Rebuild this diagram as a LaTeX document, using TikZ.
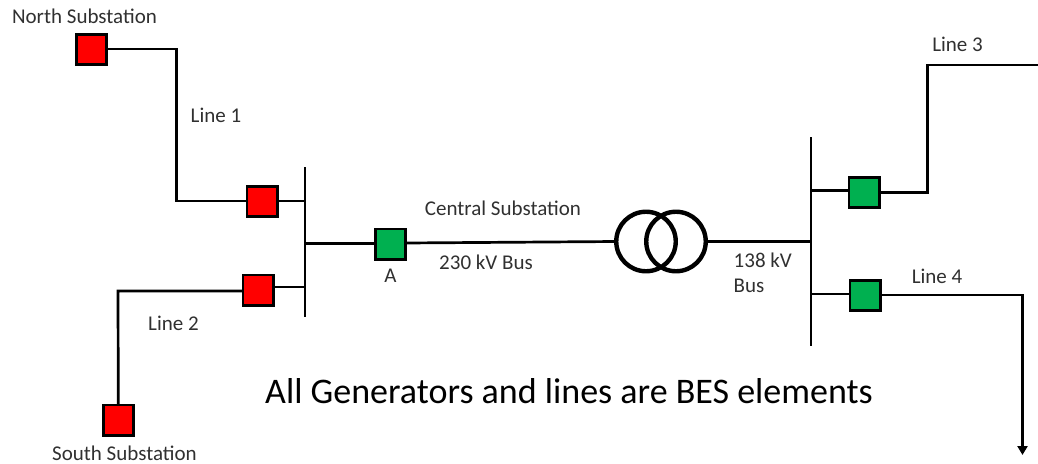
\documentclass[tikz,border=0pt]{standalone}
\usepackage{fontspec}
\setmainfont{Carlito}
\usetikzlibrary{arrows.meta}
\definecolor{brkred}{HTML}{FF0000}
\definecolor{brkgreen}{HTML}{00B050}
\definecolor{lbl}{HTML}{303030}
\tikzset{
  x=1pt,y=-1pt,
  brk/.style={draw=black,line width=2.8pt,minimum size=30.2pt,inner sep=0pt,outer sep=0pt},
  redbrk/.style={brk,fill=brkred},
  greenbrk/.style={brk,fill=brkgreen},
  wire/.style={draw=black,line width=2.7pt,line join=miter},
  winding/.style={circle,draw=black,line width=4.4pt,minimum size=59.5pt,inner sep=0pt,outer sep=0pt},
  lab/.style={inner sep=0pt,text=lbl,font=\fontsize{21}{25}\selectfont,anchor=center},
}
\begin{document}
\begin{tikzpicture}
\useasboundingbox (0,0) rectangle (1038,463);
% coordinates
\coordinate (bus1t) at (305,167);
\coordinate (bus1b) at (305,317);
\coordinate (bus2t) at (811,137);
\coordinate (bus2b) at (811,346);
\coordinate (c1) at (176.5,49);
\coordinate (c1b) at (176.5,201);
\coordinate (c2) at (118,291);
\coordinate (c3) at (927.5,192.5);
\coordinate (c3t) at (927.5,65);
\coordinate (e3) at (1038,65);
\coordinate (c4) at (1022.5,295);
\coordinate (e4) at (1022.5,455);
\coordinate (j1) at (305,243.5);
\coordinate (j2) at (305,287);
\coordinate (j3) at (811,190.5);
\coordinate (j4) at (811,294);
% breakers
\node[redbrk] (north) at (91.3,49.5) {};
\node[redbrk] (b1) at (262,201.5) {};
\node[redbrk] (b2) at (258,290) {};
\node[redbrk] (south) at (118.3,420) {};
\node[greenbrk] (a) at (390.7,244) {};
\node[greenbrk] (b3) at (864,192.7) {};
\node[greenbrk] (b4) at (865,295.3) {};
% transformer
\node[winding] (t1) at (646,241.5) {};
\node[winding] (t2) at (676,241.5) {};
% buses
\draw[wire] (bus1t) -- (bus1b);
\draw[wire] (bus2t) -- (bus2b);
% connectors
\draw[wire] (north.east |- c1) -- (c1) -- (c1b) -- (c1b -| b1.west);
\draw[wire] (c1b -| b1.east) -- (c1b -| bus1t);
\draw[wire] (south.north) -- (c2) -- (c2 -| b2.west);
\draw[wire] (j2 -| b2.east) -- (j2);
\draw[wire] (j1) -- (j1 -| a.west);
\draw[wire] (a.east) ++(0,-1) -- (t1.west);
\draw[wire] (t2.east) -- (t2.east -| bus2t);
\draw[wire] (j3) -- (j3 -| b3.west);
\draw[wire] (b3.east |- c3) -- (c3) -- (c3t) -- (e3);
\draw[wire] (j4) -- (j4 -| b4.west);
\draw[wire,-{Triangle[length=9pt,width=10pt]}] (b4.east |- c4) -- (c4) -- (e4);
% labels
\node[lab] (ln) at (84.5,16) {North Substation};
\node[lab] (ls) at (124.5,453.5) {South Substation};
\node[lab] (l1) at (216,115.5) {Line 1};
\node[lab] (l2) at (173.5,323) {Line 2};
\node[lab] (l3) at (957.5,44.5) {Line 3};
\node[lab] (l4) at (937,276) {Line 4};
\node[lab] (la) at (390.5,276) {A};
\node[lab] (lc) at (503,208) {Central Substation};
\node[lab] (lb) at (486,262) {230 kV Bus};
\node[lab,anchor=west] (l138) at (733.5,260.5) {138 kV};
\node[lab,anchor=west] (lbus) at (733.5,285.5) {Bus};
\node[inner sep=0pt,text=black,font=\fontsize{36}{42}\selectfont] (note) at (569,391) {All Generators and lines are BES elements};
\end{tikzpicture}
\end{document}
